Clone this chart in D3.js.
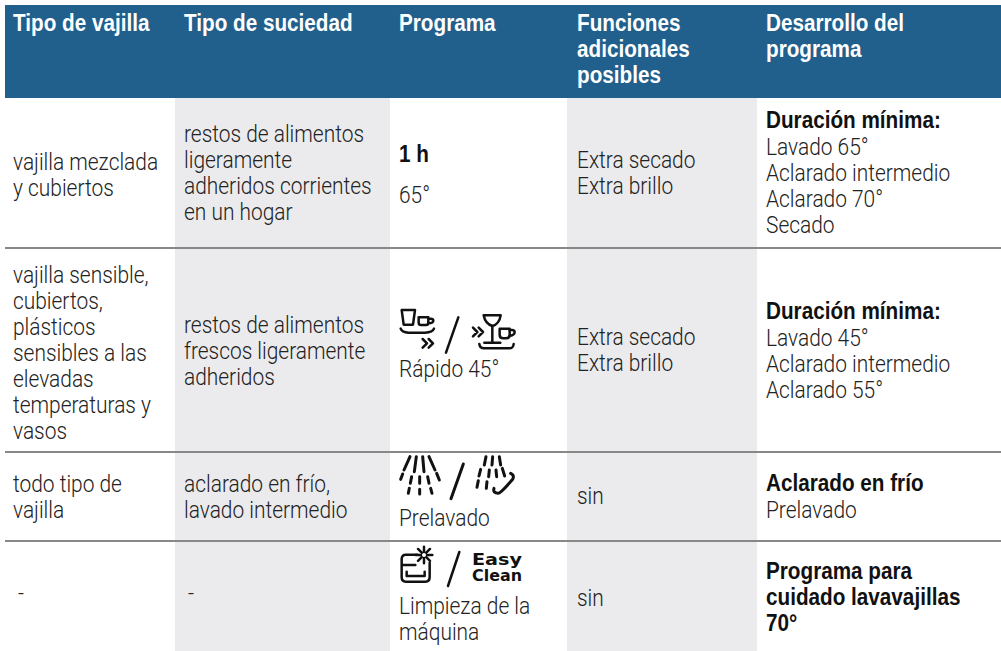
<!DOCTYPE html>
<html>
<head>
<meta charset="utf-8">
<title>Programas</title>
<script src="https://d3js.org/d3.v7.min.js"></script>
<style>
html, body { margin: 0; padding: 0; background: #fff; }
</style>
</head>
<body>
<div id="chart"></div>
<script>
// table content
var headers = [["Tipo de vajilla"], ["Tipo de suciedad"], ["Programa"], ["Funciones", "adicionales", "posibles"], ["Desarrollo del", "programa"]];
var vajilla = [["vajilla mezclada", "y cubiertos"], ["vajilla sensible,", "cubiertos,", "plásticos", "sensibles a las", "elevadas", "temperaturas y", "vasos"], ["todo tipo de", "vajilla"], ["-"]];
var suciedad = [["restos de alimentos", "ligeramente", "adheridos corrientes", "en un hogar"], ["restos de alimentos", "frescos ligeramente", "adheridos"], ["aclarado en frío,", "lavado intermedio"], ["-"]];
var programa = [["65°"], ["Rápido 45°"], ["Prelavado"], ["Limpieza de la", "máquina"]];
var funciones = [["Extra secado", "Extra brillo"], ["Extra secado", "Extra brillo"], ["sin"], ["sin"]];
var desarrolloBold = [["Duración mínima:"], ["Duración mínima:"], ["Aclarado en frío"], ["Programa para", "cuidado lavavajillas", "70°"]];
var desarrollo = [["Lavado 65°", "Aclarado intermedio", "Aclarado 70°", "Secado"], ["Lavado 45°", "Aclarado intermedio", "Aclarado 55°"], ["Prelavado"], []];

var width = 1001, height = 651;
var colEdges = [5, 175, 390, 567, 757, 1001];
var rowEdges = [98, 248, 452, 541, 651];
var lineH = 26;

var svg = d3.select("#chart").append("svg")
    .attr("width", width).attr("height", height)
    .style("display", "block");

// shaded columns
[1, 3].forEach(function(c) {
  svg.append("rect").attr("x", colEdges[c]).attr("y", rowEdges[0])
    .attr("width", colEdges[c + 1] - colEdges[c]).attr("height", height - rowEdges[0])
    .attr("fill", "#ebebed");
});

// header band
svg.append("rect").attr("x", 5).attr("y", 5).attr("width", width - 5).attr("height", 93).attr("fill", "#215f8c");

// row rules
svg.selectAll("line.rule").data(rowEdges.slice(1, 4)).enter().append("line")
  .attr("x1", 5).attr("x2", width)
  .attr("y1", function(d) { return d; }).attr("y2", function(d) { return d; })
  .attr("stroke", "#888").attr("stroke-width", 2);

// the reference font is a light condensed one, so squeeze what is installed
function block(lines, x, y, opts) {
  opts = opts || {};
  lines.forEach(function(s, i) {
    svg.append("text")
      .attr("transform", "translate(" + x + "," + (y + i * lineH) + ") scale(" + (opts.bold ? 0.9 : 0.89) + ",1)")
      .attr("fill", opts.fill || (opts.bold ? "#111" : "#222"))
      .style("font-family", opts.bold ? '"Liberation Sans", sans-serif' : 'Roboto, sans-serif')
      .style("font-size", (opts.bold ? 23 : 23.5) + "px")
      .style("font-weight", opts.bold ? "bold" : "300")
      .text(s);
  });
}

// header text
var textX = [13, 184, 399, 577, 766];
headers.forEach(function(h, i) {
  block(h, textX[i], 31, {fill: "#fff", bold: true});
});

block(vajilla[0], textX[0], 170);
block(vajilla[1], textX[0], 283);
block(vajilla[2], textX[0], 492);
block(vajilla[3], 18, 601);
block(suciedad[0], textX[1], 142);
block(suciedad[1], textX[1], 333);
block(suciedad[2], textX[1], 492);
block(suciedad[3], 188, 601);
block(["1 h"], textX[2], 162, {bold: true});
block(programa[0], textX[2], 203);
block(programa[1], textX[2], 377);
block(programa[2], textX[2], 526);
block(programa[3], textX[2], 614);
block(funciones[0], textX[3], 168);
block(funciones[1], textX[3], 345);
block(funciones[2], textX[3], 504);
block(funciones[3], textX[3], 606);
block(desarrolloBold[0], textX[4], 128, {bold: true});
block(desarrollo[0], textX[4], 155);
block(desarrolloBold[1], textX[4], 319, {bold: true});
block(desarrollo[1], textX[4], 346);
block(desarrolloBold[2], textX[4], 491, {bold: true});
block(desarrollo[2], textX[4], 518);
block(desarrolloBold[3], textX[4], 579, {bold: true});

// program icons, paths traced at 3x from the reference crop origin
function iconLayer(x, y, sw) {
  return svg.append("g").attr("transform", "translate(" + x + "," + y + ") scale(0.3333)")
    .attr("fill", "none").attr("stroke", "#111").attr("stroke-width", sw)
    .attr("stroke-linecap", "round").attr("stroke-linejoin", "round");
}
function draw(g, paths) {
  paths.forEach(function(d) { g.append("path").attr("d", d); });
}

var fast = iconLayer(380, 290, 7.5);
draw(fast, [
  "M65,60 H105 L99,104 H71 Z",
  "M116,82 H145 V98 Q145,105 138,105 H123 Q116,105 116,98 Z",
  "M145,86 H152 Q160,86 160,92 Q160,99 145,100",
  "M62,116 Q66,127 85,128 H135 Q158,127 162,116",
  "M128,147 L141,160 L128,173 M146,147 L159,160 L146,173",
  "M235,82 L198,188",
  "M279,113 L292,126 L279,139 M296,113 L309,126 L296,139",
  "M311,76 H362 Q358,102 337,108 Q316,102 311,76 Z",
  "M337,108 V156 M313,158 H361",
  "M359,116 H389 V134 Q389,145 378,145 H370 Q359,145 359,134 Z",
  "M389,120 H396 Q404,120 404,127 Q404,135 389,138",
  "M298,162 Q300,175 312,175 H388 Q400,175 401,162"
]);

var rinse = iconLayer(380, 450, 9);
draw(rinse, [
  "M90,20 L72,60 M109,20 L103,65 M128,20 L132,65 M147,20 L165,60",
  "M68,72 L62,88 M95,80 L91,100 M119,80 V100 M143,80 L147,100 M170,70 L178,90",
  "M88,115 L85,130 M119,118 V132 M152,115 L156,130",
  "M250,42 L213,146",
  "M318,20 L313,45 M338,20 L336,45 M358,20 L362,45",
  "M302,58 L297,78 M328,60 L326,80 M348,60 L350,80 M367,55 L374,78",
  "M295,92 L291,112 M321,95 L319,115",
  "M342,115 Q338,130 355,130 Q362,130 398,88 Q404,76 392,70"
]);

var clean = iconLayer(380, 450, 7.5);
draw(clean, [
  "M112,314 H78 Q65,314 65,327 V382 Q65,395 78,395 H136 Q149,395 149,382 V338",
  "M68,345 H106 M80,365 V378 H134 V365",
  "M132,290 V340 M107,315 H157 M114,297 L150,333 M150,297 L114,333",
  "M238,306 L204,408"
]);
clean.append("circle").attr("cx", 132).attr("cy", 315).attr("r", 6).attr("fill", "#fff").attr("stroke", "none");

// the wordmark in the last program icon
[["Easy", 565], ["Clean", 581]].forEach(function(d) {
  svg.append("text").attr("x", 472).attr("y", d[1])
    .attr("textLength", 50).attr("lengthAdjust", "spacingAndGlyphs")
    .style("font-family", '"DejaVu Sans", sans-serif').style("font-weight", "bold")
    .style("font-size", "15.5px").attr("fill", "#111").text(d[0]);
});
</script>
</body>
</html>
